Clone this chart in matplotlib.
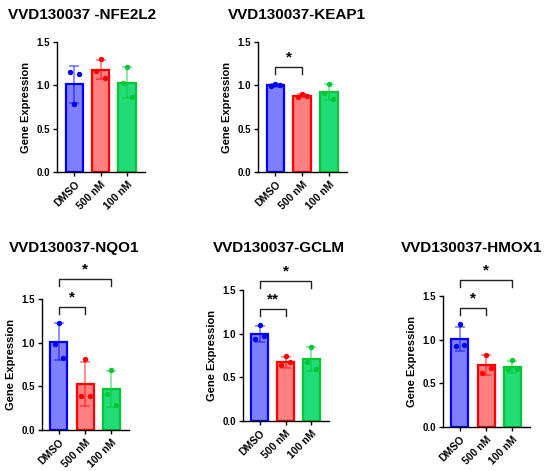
import matplotlib
matplotlib.use("Agg")
import matplotlib.pyplot as plt

plt.rcParams["font.family"] = ["Liberation Sans", "DejaVu Sans"]
plt.rcParams["font.weight"] = "bold"

groups = ["DMSO", "500 nM", "100 nM"]
genes = ["NFE2L2", "KEAP1", "NQO1", "GCLM", "HMOX1"]
titles = ["VVD130037 -NFE2L2", "VVD130037-KEAP1", "VVD130037-NQO1",
          "VVD130037-GCLM", "VVD130037-HMOX1"]

# bar heights (mean) and error (sd) per gene
means = {
    "NFE2L2": [1.01, 1.18, 1.03],
    "KEAP1": [1.00, 0.88, 0.92],
    "NQO1": [1.01, 0.53, 0.47],
    "GCLM": [1.00, 0.67, 0.71],
    "HMOX1": [1.01, 0.71, 0.69],
}
sds = {
    "NFE2L2": [0.21, 0.11, 0.18],
    "KEAP1": [0.02, 0.02, 0.09],
    "NQO1": [0.21, 0.25, 0.21],
    "GCLM": [0.09, 0.06, 0.14],
    "HMOX1": [0.14, 0.11, 0.07],
}
# replicate points, listed left / middle / right
points = {
    "NFE2L2": [[1.15, 0.78, 1.13], [1.17, 1.30, 1.09], [1.03, 1.21, 0.86]],
    "KEAP1": [[0.99, 1.02, 1.00], [0.87, 0.90, 0.88], [0.91, 1.01, 0.84]],
    "NQO1": [[0.98, 1.23, 0.82], [0.39, 0.81, 0.39], [0.41, 0.69, 0.29]],
    "GCLM": [[0.94, 1.10, 0.97], [0.64, 0.74, 0.67], [0.68, 0.85, 0.59]],
    "HMOX1": [[0.93, 1.18, 0.94], [0.62, 0.83, 0.67], [0.66, 0.77, 0.66]],
}
# significance brackets: (group a, group b, height, label)
brackets = {
    "NFE2L2": [],
    "KEAP1": [(0, 1, 1.21, "*")],
    "NQO1": [(0, 1, 1.41, "*"), (0, 2, 1.725, "*")],
    "GCLM": [(0, 1, 1.28, "**"), (0, 2, 1.60, "*")],
    "HMOX1": [(0, 1, 1.36, "*"), (0, 2, 1.68, "*")],
}

fills = ["#8080ff", "#ff8080", "#22dd77"]
edges = ["#0000ff", "#ff0000", "#00c832"]
jitter = [-0.17, 0.0, 0.17]

W, H = 550, 471
# axes boxes in pixels: left, top, right, bottom
boxes = [
    (57, 42, 145, 172),
    (258, 42, 347, 172),
    (42, 299, 129, 430),
    (243, 290, 329, 421),
    (443, 296, 530, 427),
]
# title centre in pixels
title_pos = [(82, 15), (297, 15), (74, 248), (279, 248), (472, 248)]

fig = plt.figure(figsize=(W / 100, H / 100), dpi=100)

for gene, title, box, tpos in zip(genes, titles, boxes, title_pos):
    l, t, r, b = box
    ax = fig.add_axes([l / W, 1 - b / H, (r - l) / W, (b - t) / H])
    x = range(len(groups))
    ax.bar(x, means[gene], width=0.65, color=fills, edgecolor=edges,
           linewidth=1.6, zorder=2)
    for i in x:
        ax.errorbar(i, means[gene][i], yerr=sds[gene][i], color=edges[i],
                    alpha=0.55, capsize=3.5, elinewidth=1.1, capthick=1.1,
                    zorder=3)
        ax.scatter([i + j for j in jitter], points[gene][i], s=15,
                   color=edges[i], zorder=4, linewidths=0)
    for a, c, y, lab in brackets[gene]:
        ax.plot([a, a, c, c], [y - 0.08, y, y, y - 0.08], color="#222222",
                lw=1.0, clip_on=False)
        ax.text((a + c) / 2, y + 0.03, lab, ha="center", va="bottom",
                fontsize=11, fontweight="bold", clip_on=False)
    ax.set_xlim(-0.65, 2.68)
    ax.set_ylim(0, 1.5)
    ax.set_yticks([0, 0.5, 1.0, 1.5])
    ax.set_yticklabels(["0.0", "0.5", "1.0", "1.5"], fontsize=7, fontweight="bold")
    ax.set_xticks(list(x))
    ax.set_xticklabels(groups, rotation=45, ha="right", rotation_mode="anchor",
                       fontsize=7.5, fontweight="bold")
    ax.set_ylabel("Gene Expression", fontsize=8, fontweight="bold", labelpad=4)
    for s in ["top", "right"]:
        ax.spines[s].set_visible(False)
    for s in ["left", "bottom"]:
        ax.spines[s].set_linewidth(1.0)
    ax.tick_params(length=3, width=1.0, pad=2)
    fig.text(tpos[0] / W, 1 - tpos[1] / H, title, ha="center", va="center",
             fontsize=11, fontweight="bold")

fig.savefig("out.png", dpi=100)
